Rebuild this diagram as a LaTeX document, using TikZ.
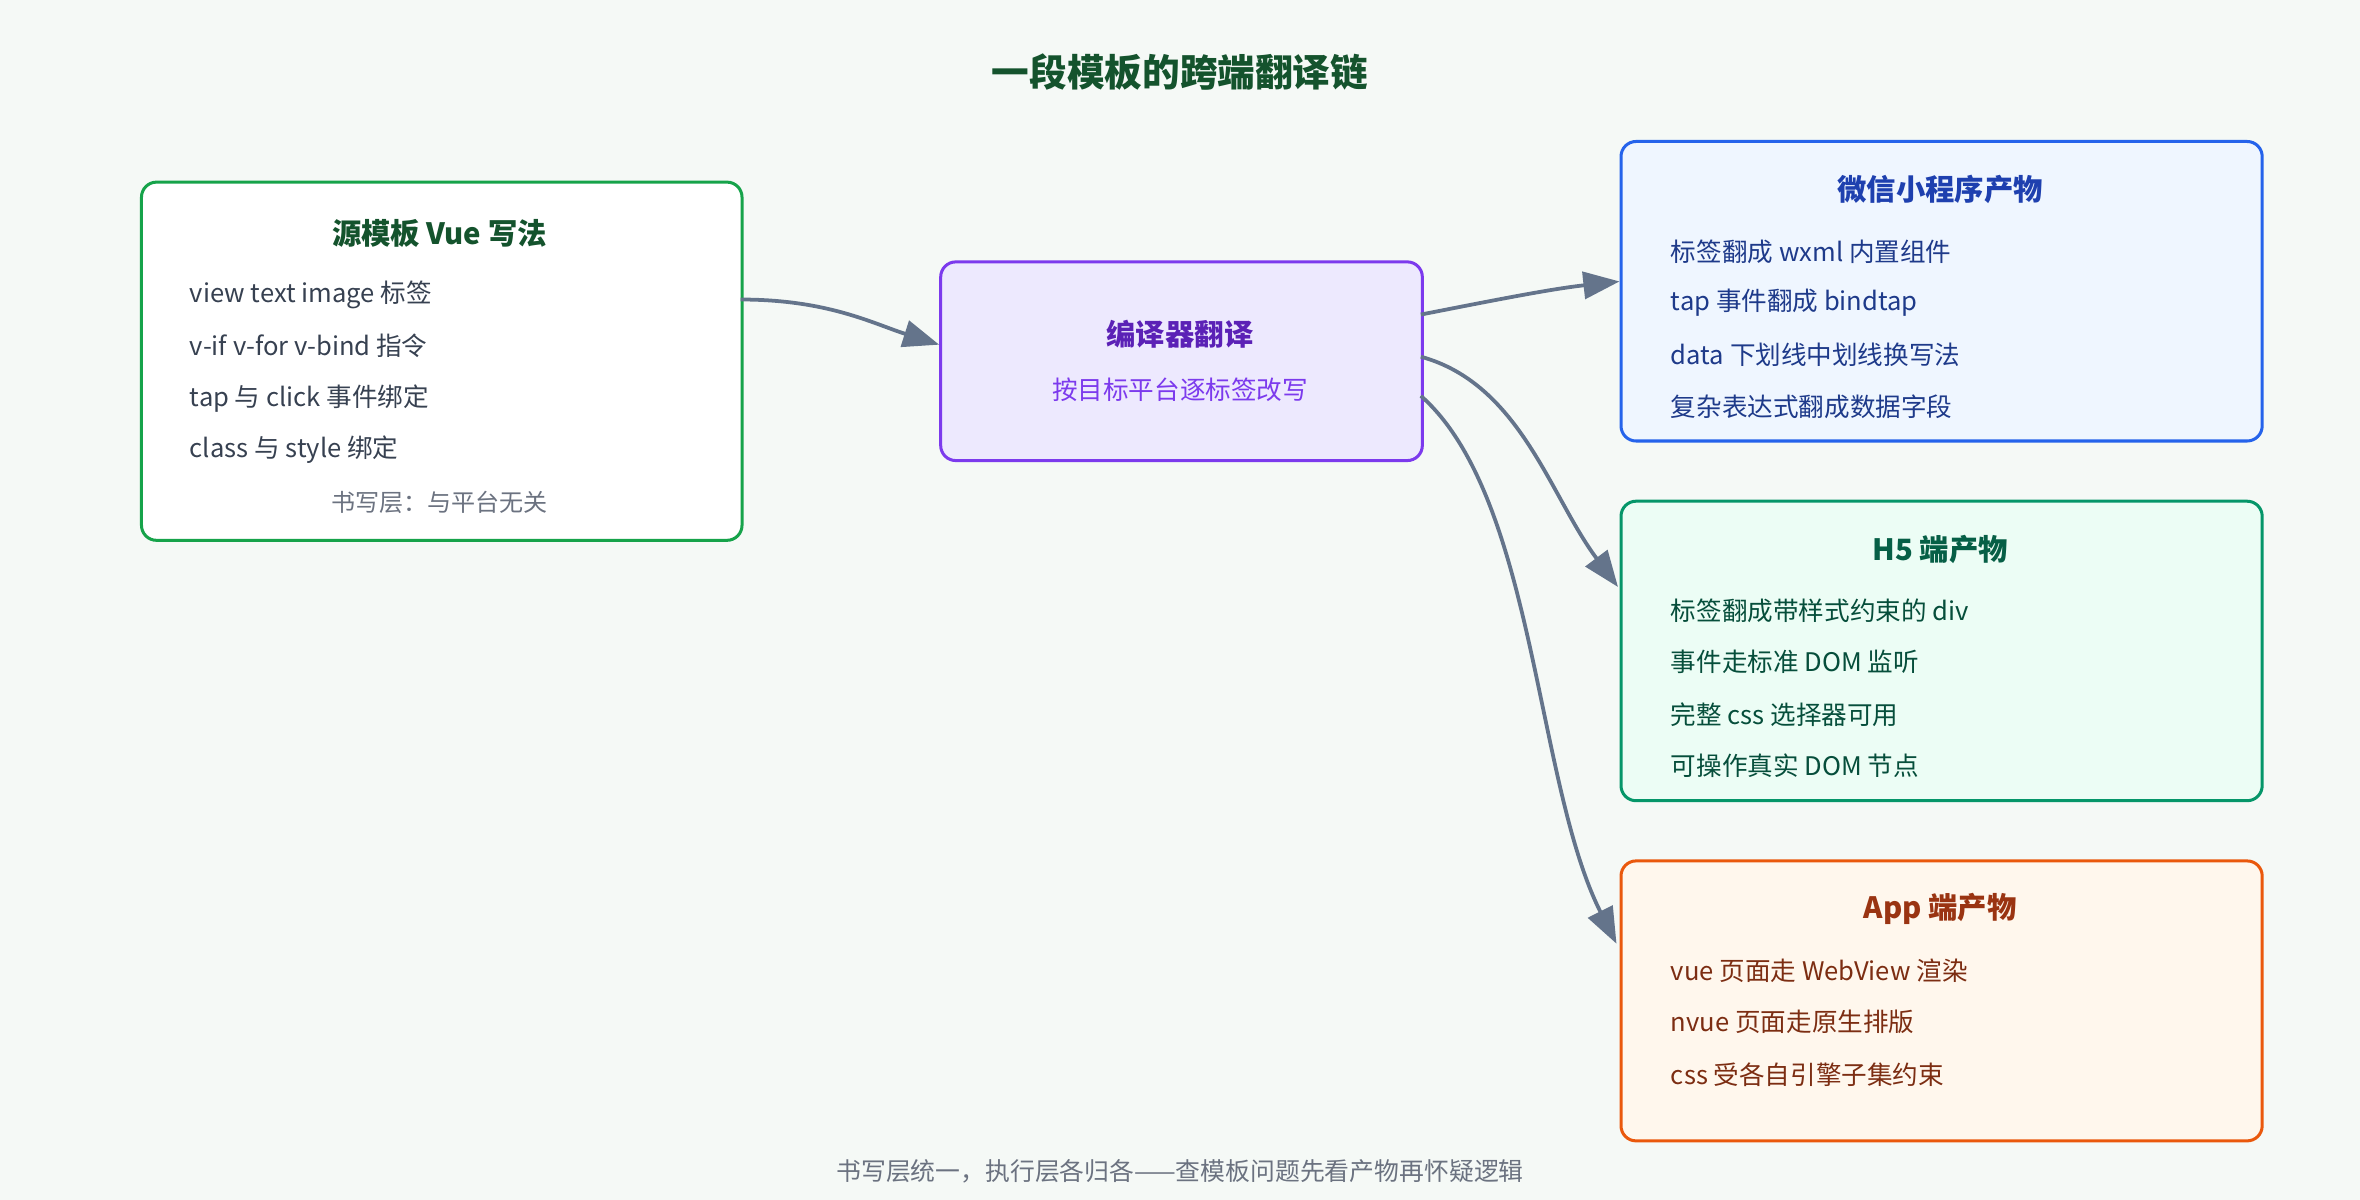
\documentclass[tikz,border=0pt]{standalone}
\usepackage{fontspec}
\setmainfont{Noto Sans CJK SC}
\usetikzlibrary{arrows.meta}
\definecolor{bg}{HTML}{F5F9F6}
\definecolor{arr}{HTML}{64748B}
\definecolor{cA}{HTML}{7C3AED}\definecolor{cB}{HTML}{EDE9FE}\definecolor{cC}{HTML}{5B21B6}
\definecolor{wA}{HTML}{2563EB}\definecolor{wB}{HTML}{EFF6FF}\definecolor{wC}{HTML}{1E40AF}\definecolor{wD}{HTML}{1E3A8A}
\definecolor{hA}{HTML}{059669}\definecolor{hB}{HTML}{ECFDF5}\definecolor{hC}{HTML}{065F46}\definecolor{hD}{HTML}{064E3B}
\definecolor{aA}{HTML}{EA580C}\definecolor{aB}{HTML}{FFF7ED}\definecolor{aC}{HTML}{9A3412}\definecolor{aD}{HTML}{7C2D12}
\definecolor{sA}{HTML}{16A34A}\definecolor{sC}{HTML}{14532D}\definecolor{txt}{HTML}{374151}\definecolor{gry}{HTML}{6B7280}
\begin{document}
\begin{tikzpicture}[x=1pt,y=-1pt,
 box/.style={draw,line width=2pt,rounded corners=10pt,anchor=north west,inner sep=0pt},
 ttl/.style={font=\fontsize{19.5}{19.5}\selectfont\bfseries,anchor=center},
 itm/.style={font=\fontsize{17}{17}\selectfont,anchor=west,inner sep=0pt},
 con/.style={draw=arr,line width=2.5pt,-{Triangle[length=24pt,width=18pt]}}]
\useasboundingbox[fill=bg] (0,0) rectangle (1568,797);
\node[font=\fontsize{25}{25}\selectfont\bfseries,text=sC] (title) at (784,48) {一段模板的跨端翻译链};
% source
\node[box,draw=sA,fill=white,minimum width=399pt,minimum height=238pt] (src) at (93,120) {};
\node[ttl,text=sC] (s0) at (292,155) {源模板 Vue 写法};
\begin{scope}[every node/.style={itm,text=txt}]
\node (s1) at (126,196) {view text image 标签};
\node (s2) at (126,230) {v-if v-for v-bind 指令};
\node (s3) at (126,265) {tap 与 click 事件绑定};
\node (s4) at (126,299) {class 与 style 绑定};
\end{scope}
\node[font=\fontsize{16}{16}\selectfont,text=gry] (s5) at (292,334) {书写层：与平台无关};
% compiler
\node[box,draw=cA,fill=cB,minimum width=320pt,minimum height=132pt] (cmp) at (624,173) {};
\node[ttl,text=cC] (c0) at (784,222) {编译器翻译};
\node[font=\fontsize{17}{17}\selectfont,text=cA] (c1) at (784,259) {按目标平台逐标签改写};
% wechat
\node[box,draw=wA,fill=wB,minimum width=426pt,minimum height=199pt] (wx) at (1076,93) {};
\node[ttl,text=wC] (w0) at (1289,126) {微信小程序产物};
\begin{scope}[every node/.style={itm,text=wD}]
\node (w1) at (1110,167) {标签翻成 wxml 内置组件};
\node (w2) at (1110,201) {tap 事件翻成 bindtap};
\node (w3) at (1110,236) {data 下划线中划线换写法};
\node (w4) at (1110,270) {复杂表达式翻成数据字段};
\end{scope}
% h5
\node[box,draw=hA,fill=hB,minimum width=426pt,minimum height=199pt] (h5) at (1076,332) {};
\node[ttl,text=hC] (h0) at (1289,365) {H5 端产物};
\begin{scope}[every node/.style={itm,text=hD}]
\node (h1) at (1110,406) {标签翻成带样式约束的 div};
\node (h2) at (1110,440) {事件走标准 DOM 监听};
\node (h3) at (1110,475) {完整 css 选择器可用};
\node (h4) at (1110,509) {可操作真实 DOM 节点};
\end{scope}
% app
\node[box,draw=aA,fill=aB,minimum width=426pt,minimum height=186pt] (app) at (1076,571) {};
\node[ttl,text=aC] (a0) at (1289,604) {App 端产物};
\begin{scope}[every node/.style={itm,text=aD}]
\node (a1) at (1110,645) {vue 页面走 WebView 渲染};
\node (a2) at (1110,679) {nvue 页面走原生排版};
\node (a3) at (1110,714) {css 受各自引擎子集约束};
\end{scope}
\node[font=\fontsize{16.5}{16.5}\selectfont,text=gry] (foot) at (784,778) {书写层统一，执行层各归各——查模板问题先看产物再怀疑逻辑};
% connectors
\coordinate (p1) at (492,199); \coordinate (q1) at (624,229);
\coordinate (p2) at (944,209); \coordinate (q2) at (1076,187);
\coordinate (p3) at (944,237); \coordinate (q3) at (1075,390);
\coordinate (p4) at (944,263); \coordinate (q4) at (1074,627);
\draw[con] (p1) .. controls (550,199) and (580,215) .. (q1);
\draw[con] (p2) .. controls (990,200) and (1030,192) .. (q2);
\draw[con] (p3) .. controls (1010,255) and (1030,330) .. (q3);
\draw[con] (p4) .. controls (1020,330) and (1020,520) .. (q4);
\end{tikzpicture}
\end{document}
